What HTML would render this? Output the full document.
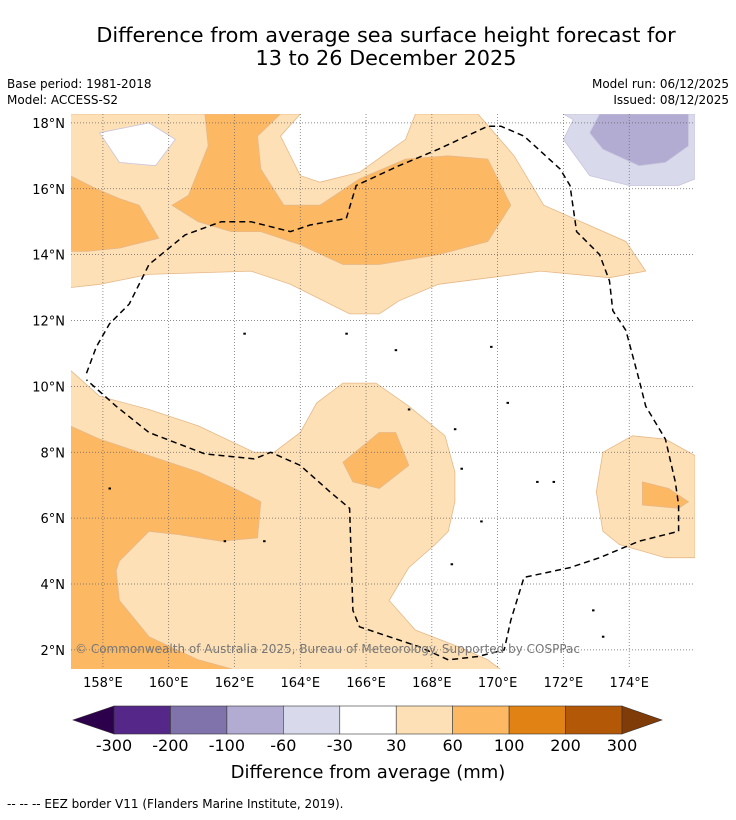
<!DOCTYPE html>
<html><head><meta charset="utf-8"><style>
body{margin:0;background:#fff;width:736px;height:816px;overflow:hidden;font-family:"DejaVu Sans","Liberation Sans",sans-serif}
svg text{font-family:"DejaVu Sans","Liberation Sans",sans-serif}
</style></head><body>
<svg id="chart" width="736" height="816" xmlns="http://www.w3.org/2000/svg">
<text x="386" y="42" font-size="20.8" text-anchor="middle">Difference from average sea surface height forecast for</text>
<text x="386" y="65" font-size="20.8" text-anchor="middle">13 to 26 December 2025</text>
<text x="7" y="88" font-size="12">Base period: 1981-2018</text>
<text x="7" y="104" font-size="12">Model: ACCESS-S2</text>
<text x="729" y="88" font-size="12" text-anchor="end">Model run: 06/12/2025</text>
<text x="729" y="104" font-size="12" text-anchor="end">Issued: 08/12/2025</text>
<g id="map"></g>
<g id="cbar"></g>
<text x="368" y="778" font-size="18" text-anchor="middle">Difference from average (mm)</text>
<text x="7" y="808" font-size="12">--  --  -- EEZ border V11 (Flanders Marine Institute, 2019).</text>
</svg>
<script>
const lonTicks=[158,160,162,164,166,168,170,172,174];
const latTicks=[2,4,6,8,10,12,14,16,18];
const levels=["-300","-200","-100","-60","-30","30","60","100","200","300"];
const levelColors=["#542788","#8073ac","#b2abd2","#d8daeb","#ffffff","#fee0b6","#fdb863","#e08214","#b35806"];
const lightTop=[[157,18.27],[164,18.27],[163.4,17.6],[164,16.4],[164.6,16.2],[165.8,16.5],[167.2,17.5],[167.5,18.27],[169.4,18.27],[170.5,17],[171.4,15.5],[173.9,14.4],[174.5,13.5],[173.4,13.3],[171.3,13.5],[168.2,13.1],[167,12.6],[166.4,12.2],[165.5,12.2],[163.7,13.1],[162.5,13.5],[159.4,13.4],[157.9,13.1],[157,13]];
const whiteHole=[[157.9,17.7],[159.4,18],[160.2,17.5],[159.6,16.7],[158.5,16.8]];
const darkTopLeft=[[157,16.4],[157.8,16.0],[158.5,15.7],[159.1,15.5],[159.7,14.5],[158.5,14.2],[157.5,14.1],[157,14.1]];
const darkTopMid=[[161.1,18.27],[163.4,18.27],[162.7,17.6],[162.8,16.6],[163.5,15.5],[164.6,15.5],[165.8,16.3],[167.2,16.9],[168.5,17.0],[169.7,16.9],[170.4,15.5],[169.7,14.4],[168.2,14.0],[166.4,13.7],[165.3,13.7],[164,14.3],[162.8,14.7],[161.9,14.7],[160.9,15.0],[160.1,15.5],[160.6,15.8],[161.2,17.3]];
const lavLight=[[172,18.27],[176,18.27],[176,16.3],[175.5,16.1],[174,16.1],[172.8,16.4],[172,17.5],[172.3,18.1]];
const lavMid=[[173.1,18.27],[175.8,18.27],[175.8,17.3],[175.1,16.8],[174.3,16.7],[173.2,17.2],[172.8,17.7]];
const lightBottom=[[157,10.5],[157.9,9.7],[159.4,9.3],[160.9,8.8],[162.6,8.0],[163.2,8.0],[164,8.6],[164.5,9.5],[165.3,10.1],[166.3,10.1],[167.3,9.4],[168.4,8.5],[168.7,7.4],[168.7,6.5],[168.5,5.6],[168.1,5.2],[167.3,4.5],[166.7,3.5],[167.5,2.6],[168.8,2.1],[169.7,1.7],[170.1,1.4],[157,1.4]];
const darkBottom=[[157,8.8],[157.9,8.4],[159.4,7.9],[160.9,7.4],[162,6.9],[162.8,6.5],[162.7,5.4],[161.6,5.3],[160.3,5.5],[159.4,5.6],[158.5,4.7],[158.4,4.4],[158.5,3.5],[159.4,2.4],[160.9,1.7],[162,1.4],[157,1.4]];
const darkBlob=[[165.3,7.7],[166.4,8.6],[166.9,8.6],[167.3,7.6],[166.4,6.9],[165.6,7.1]];
const lightRight=[[173.2,8.0],[174.1,8.5],[175.1,8.4],[176,7.9],[176,4.8],[175.1,4.8],[173.7,5.2],[173.2,5.6],[173,6.8]];
const darkRight=[[174.4,7.1],[175.2,6.9],[175.8,6.5],[175.5,6.3],[174.4,6.4]];
const eez=[[157.5,10.4],[157.8,11.2],[158.2,11.9],[158.8,12.5],[159.4,13.7],[160.5,14.6],[161.6,15.0],[162.5,15.0],[163.7,14.7],[164.3,14.9],[165.4,15.1],[165.7,16.1],[167,16.7],[168.2,17.2],[169.7,17.9],[170.1,17.9],[170.8,17.6],[171.9,16.6],[172.2,16.1],[172.4,14.7],[173.1,14.0],[173.4,13.2],[173.5,12.3],[173.9,11.7],[174.3,10.2],[174.5,9.4],[175.1,8.4],[175.4,7.1],[175.5,6.4],[175.5,5.6],[174.3,5.3],[173.1,4.8],[172.2,4.5],[170.8,4.2],[170.4,2.9],[170.2,2.0],[169.4,1.8],[168.5,1.7],[167.6,2.1],[166.4,2.5],[165.8,2.7],[165.6,3.2],[165.5,6.3],[164.9,6.8],[164,7.6],[163.1,8.0],[162.6,7.8],[161.1,7.95],[159.4,8.6],[158.4,9.4],[157.5,10.2]];
const islands=[[158.2,6.9],[161.7,5.3],[162.9,5.3],[169.5,5.9],[171.2,7.1],[171.7,7.1],[170.3,9.5],[167.3,9.3],[165.4,11.6],[162.3,11.6],[166.9,11.1],[169.8,11.2],[168.7,8.7],[168.9,7.5],[172.9,3.2],[173.2,2.4],[168.6,4.6]];

const NS="http://www.w3.org/2000/svg";
const X0=71,X1=695,Y0=114,Y1=669;
const LON0=157.03,LON1=176.0,LAT0=1.42,LAT1=18.27;
function xs(lon){return X0+(lon-LON0)/(LON1-LON0)*(X1-X0);}
function ys(lat){return Y1-(lat-LAT0)/(LAT1-LAT0)*(Y1-Y0);}
function mk(tag,attrs,parent){const e=document.createElementNS(NS,tag);for(const k in attrs)e.setAttribute(k,attrs[k]);parent.appendChild(e);return e;}
function pts(arr){return arr.map(p=>xs(p[0]).toFixed(1)+","+ys(p[1]).toFixed(1)).join(" ");}
const map=document.getElementById('map');
const clip=mk('clipPath',{id:'mc'},map);mk('rect',{x:X0,y:Y0,width:X1-X0,height:Y1-Y0},clip);
const g=mk('g',{'clip-path':'url(#mc)'},map);
const polys=[[lightTop,5,'contour-30-60-north'],[whiteHole,4,'contour-white-hole'],[darkTopLeft,6,'contour-60-100-northwest'],[darkTopMid,6,'contour-60-100-north'],[lavLight,3,'contour-neg60-neg30'],[lavMid,2,'contour-neg100-neg60'],[lightBottom,5,'contour-30-60-south'],[darkBottom,6,'contour-60-100-southwest'],[darkBlob,6,'contour-60-100-central'],[lightRight,5,'contour-30-60-east'],[darkRight,6,'contour-60-100-east']];
polys.forEach(p=>{
  const e=mk('polygon',{points:pts(p[0]),fill:levelColors[p[1]],stroke:p[1]>=5?'#e6b888':'#c8c4dc','stroke-width':0.8},g);
  
  
});
lonTicks.forEach(l=>{
  const x=xs(l);
  const ln=mk('line',{x1:x,x2:x,y1:Y0,y2:Y1,stroke:'#666','stroke-width':0.7,'stroke-dasharray':'1,2'},g);
  
  
  const t=mk('text',{x:x,y:687,'font-size':13,'text-anchor':'middle'},map);t.textContent=l+'°E';
  
  
});
latTicks.forEach(l=>{
  const y=ys(l);
  const ln=mk('line',{x1:X0,x2:X1,y1:y,y2:y,stroke:'#666','stroke-width':0.7,'stroke-dasharray':'1,2'},g);
  
  
  const t=mk('text',{x:65,y:y+5,'font-size':13,'text-anchor':'end'},map);t.textContent=l+'°N';
  
  
});
islands.forEach(p=>{
  const e=mk('rect',{x:xs(p[0])-1,y:ys(p[1])-1,width:2.5,height:2,fill:'#000'},g);
  
  
});
const ez=mk('polyline',{points:pts(eez),fill:'none',stroke:'#000','stroke-width':1.5,'stroke-dasharray':'6,4'},g);


const wm=mk('text',{x:75,y:653,'font-size':12,fill:'#777'},g);
wm.textContent='© Commonwealth of Australia 2025, Bureau of Meteorology. Supported by COSPPac';



const cb=document.getElementById('cbar');
const CX0=114,CX1=622,CY=706,CH=28;
const CW=(CX1-CX0)/levelColors.length;
levelColors.forEach((c,i)=>{
  const r=mk('rect',{x:CX0+i*CW,y:CY,width:CW,height:CH,fill:c,stroke:'#333','stroke-width':0.6},cb);
  
  
});
const lt=mk('polygon',{points:`${CX0},${CY} ${CX0},${CY+CH} 73,${CY+CH/2}`,fill:'#2d004b',stroke:'#333','stroke-width':0.6},cb);


const rt=mk('polygon',{points:`${CX1},${CY} ${CX1},${CY+CH} 662,${CY+CH/2}`,fill:'#7f3b08',stroke:'#333','stroke-width':0.6},cb);


levels.forEach((l,i)=>{
  const t=mk('text',{x:CX0+i*CW,y:751,'font-size':16,'text-anchor':'middle'},cb);t.textContent=l;
  
  
});
</script>
</body></html>
